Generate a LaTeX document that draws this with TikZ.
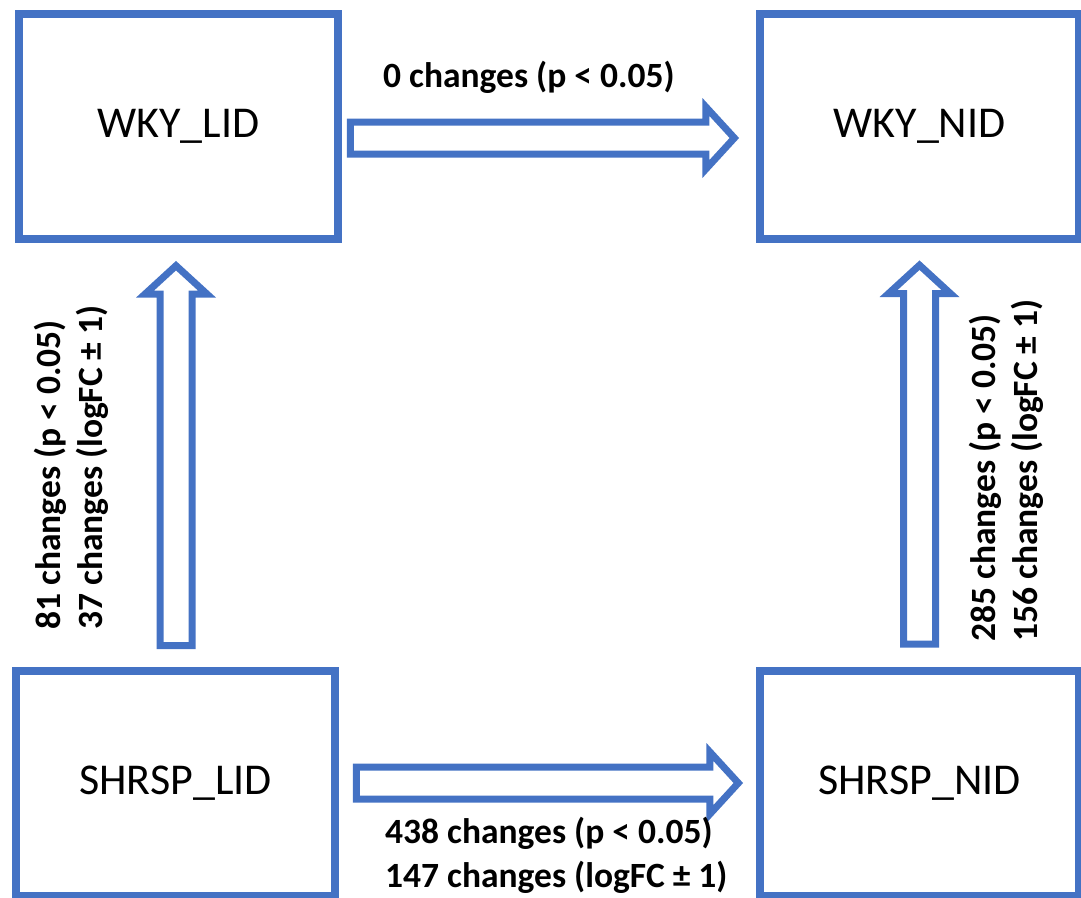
\documentclass[tikz,border=0pt]{standalone}
\usepackage{fontspec}
\setmainfont{Carlito}
\usetikzlibrary{shapes.arrows}
\definecolor{boxblue}{HTML}{4472C4}

\tikzset{
  grpbox/.style={draw=boxblue, line width=7.5pt, rectangle, inner sep=0pt,
    minimum width=319pt, minimum height=225pt, font=\fontsize{44}{50}\selectfont},
  bigarrow/.style={draw=boxblue, line width=7pt, fill=white, single arrow,
    single arrow head extend=15pt, single arrow tip angle=95, inner sep=12.5pt, outer sep=0pt},
  cnt/.style={font=\fontsize{35.5}{42}\selectfont\bfseries, inner sep=0pt, anchor=base west}
}

\begin{document}
\begin{tikzpicture}[x=1pt, y=-1pt]
	\useasboundingbox (0,0) rectangle (1081,897);
	% the four groups
	\node[grpbox] (wl) at (178.5,126.5) {WKY\_LID};
	\node[grpbox] (wn) at (919.5,126.5) {WKY\_NID};
	\node[grpbox] (sl) at (175.5,783.5) {SHRSP\_LID};
	\node[grpbox] (sn) at (919.5,783.5) {SHRSP\_NID};
	% block arrows between them
	\node[bigarrow, minimum height=384pt] (wa) at (535,138) {};
	\node[bigarrow, minimum height=382pt] (sa) at (540,783) {};
	\node[bigarrow, minimum height=380pt, shape border rotate=90] (la) at (176,463) {};
	\node[bigarrow, minimum height=379pt, shape border rotate=90] (ra) at (919.5,462) {};
	% counts
	\node[cnt] (wal) at (383,87) {0 changes (p < 0.05)};
	\node[cnt] (sal1) at (385,843) {438 changes (p < 0.05)};
	\node[cnt] (sal2) at (385,887) {147 changes (logFC ± 1)};
	\node[cnt, rotate=90] (lal1) at (60,630) {81 changes (p < 0.05)};
	\node[cnt, rotate=90] (lal2) at (102,630) {37 changes (logFC ± 1)};
	\node[cnt, rotate=90] (ral1) at (995,642) {285 changes (p < 0.05)};
	\node[cnt, rotate=90] (ral2) at (1037,642) {156 changes (logFC ± 1)};
\end{tikzpicture}
\end{document}
